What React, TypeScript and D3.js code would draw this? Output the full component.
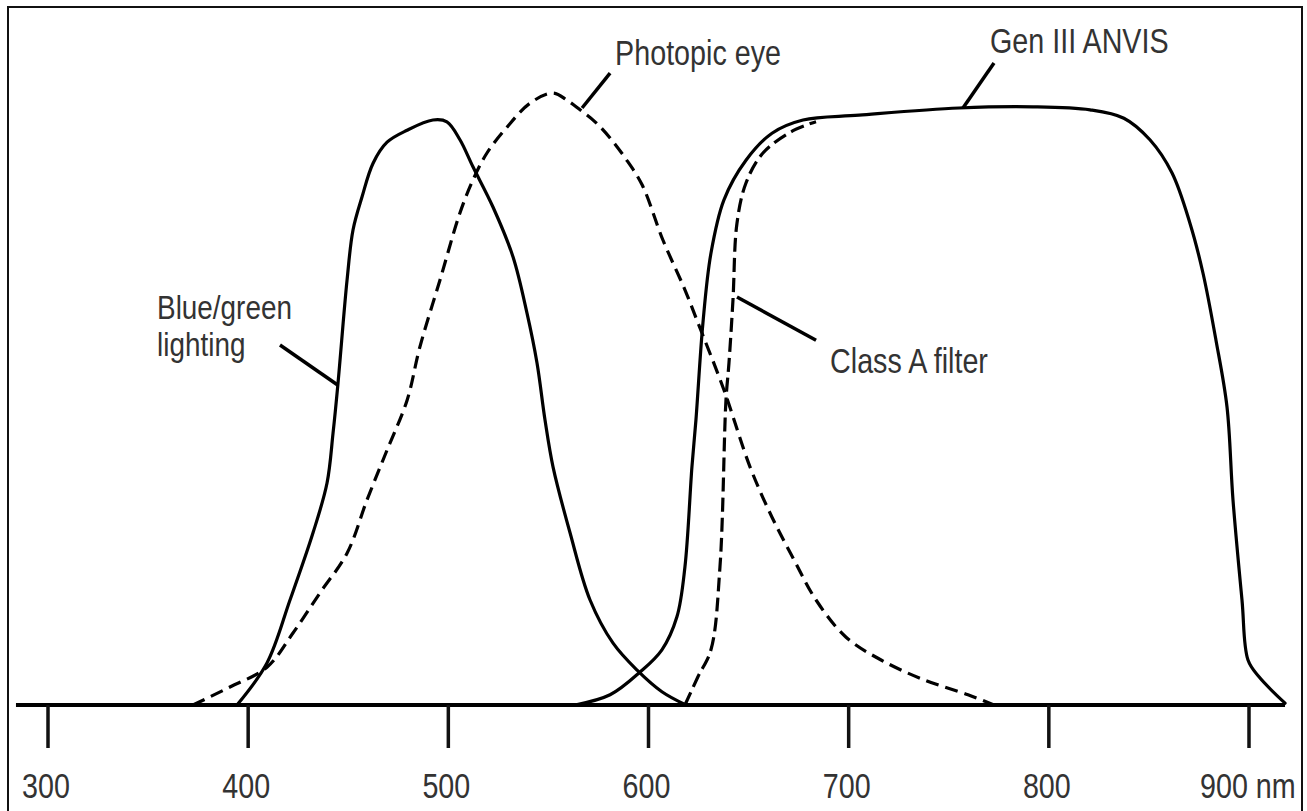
import React from "react";
import * as d3 from "d3";

// ---- Data (wavelength in nm, relative response 0..100) ----
const tickValues = [300, 400, 500, 600, 700, 800, 900];
const tickLabels = ["300", "400", "500", "600", "700", "800", "900 nm"];
const axisExtent = [284, 918];

const blueGreen: [number, number][] = [
  [394.4, 0], [409.4, 7], [420.9, 17.5], [432.4, 28.7], [439.4, 37], [442.4, 45.3],
  [444.9, 53.7], [449.4, 70.8], [452.4, 79.2], [456.9, 84.7], [462.4, 90.3],
  [469.4, 93.8], [479.4, 95.8], [492.3, 97.5], [499.3, 97.2], [505.8, 94.2],
  [512.3, 89.7], [522.3, 83], [532.3, 74.7], [539.3, 65.3], [544.3, 57],
  [548.3, 47.5], [552.3, 39.7], [560.8, 28.7], [570.8, 17.5], [582.3, 10.3],
  [594.3, 5.8], [606.7, 2.2], [618.7, 0],
];

const photopic: [number, number][] = [
  [372.4, 0], [390.9, 3], [409.4, 6.3], [422.4, 12], [435.9, 18.7], [449.4, 25.3],
  [459.4, 34.2], [469.4, 42.5], [479.4, 50.8], [485.8, 59.7], [495.8, 70.8],
  [505.8, 82], [512.3, 87.5], [519.3, 92], [529.3, 96.3], [540.8, 100.3],
  [552.3, 102], [559.3, 100.8], [565.8, 99.2], [573.3, 97.2], [580.8, 94.5],
  [588.3, 91.2], [596.8, 86.7], [607.2, 77.5], [618.2, 69.2], [624.7, 63.7],
  [637.7, 52.5], [650.7, 39.7], [661.7, 31.3], [672.7, 24.2], [683.7, 17.5],
  [698.7, 11.3], [716.2, 7.5], [737.6, 4.2], [759.6, 1.7], [772.6, 0],
];

const genIII: [number, number][] = [
  [563.3, 0], [580.8, 1.7], [595.8, 5.5], [606.7, 9.2], [614.2, 14.7], [618.2, 23],
  [621.7, 39.7], [623.7, 47.5], [627.2, 63.7], [631.2, 75.3], [637.7, 84.2],
  [648.7, 90.8], [661.7, 95.3], [677.2, 97.5], [705.2, 98.3], [755.1, 99.5],
  [792.1, 99.7], [820.6, 99.2], [837.5, 97.8], [850.5, 94.2], [861.5, 88.7],
  [870.5, 80.3], [877, 72], [883.5, 60.8], [889, 49.7], [892, 34.2],
  [896.5, 17.5], [899.5, 7.5], [905, 4.7], [918, 0.3],
];

const classA: [number, number][] = [
  [618.2, 0], [624.7, 4.7], [631.2, 9.2], [635.7, 23], [638.7, 50.8],
  [640.2, 57], [642.2, 67.5], [644.2, 80.3], [648.7, 87], [657.2, 92],
  [672.7, 95.8], [683.7, 97.2],
];

// annotation labels (anchor in data units) and leader lines (from -> to)
const labelNames = ["Photopic eye", "Gen III ANVIS", "Blue/green", "lighting", "Class A filter"];
const labelAnchors: [number, number][] = [
  [583.3, 106.7], [770.6, 108.7], [354.5, 64.4], [354.5, 58.1], [690.7, 55.3],
];
const labelSizes = [35, 35, 34, 34, 35];
const leaders: [[number, number], [number, number]][] = [
  [[580.8, 105.3], [566.8, 99.5]],
  [[772.6, 107], [757.1, 99.5]],
  [[415.9, 60], [444.9, 53.3]],
  [[644.2, 68], [683.7, 60.8]],
];

const W = 1307;
const H = 811;

export default function App() {
  const x = d3.scaleLinear().domain([300, 900]).range([48, 1249]);
  const y = d3.scaleLinear().domain([0, 100]).range([705, 105]);
  const line = d3
    .line<[number, number]>()
    .x((d) => x(d[0]))
    .y((d) => y(d[1]))
    .curve(d3.curveCatmullRom.alpha(0.5));

  const font = "'Liberation Sans', Arial, Helvetica, sans-serif";
  const textColor = "#333";
  const squeeze = 0.82;
  const fs = 35;

  return (
    <svg
      width={W}
      height={H}
      style={{ position: "absolute", left: 0, top: 0, background: "#fff" }}
    >
      <rect x={0} y={0} width={W} height={H} fill="#fff" />
      {/* frame */}
      <rect x={8} y={7} width={1294} height={830} fill="none" stroke="#111" strokeWidth={2} />

      {/* curves */}
      <path d={line(blueGreen) || ""} fill="none" stroke="#000" strokeWidth={3.2} strokeLinejoin="round" strokeLinecap="round" />
      <path d={line(genIII) || ""} fill="none" stroke="#000" strokeWidth={3.2} strokeLinejoin="round" strokeLinecap="round" />
      <path d={line(photopic) || ""} fill="none" stroke="#000" strokeWidth={3.2} strokeDasharray="13 7" />
      <path d={line(classA) || ""} fill="none" stroke="#000" strokeWidth={3.2} strokeDasharray="14 6" />

      {/* axis */}
      <line
        x1={x(axisExtent[0])}
        x2={x(axisExtent[1])}
        y1={y(0)}
        y2={y(0)}
        stroke="#000"
        strokeWidth={4}
      />
      {tickValues.map((t, i) => (
        <g key={t}>
          <line x1={x(t)} x2={x(t)} y1={y(0)} y2={y(0) + 43} stroke="#111" strokeWidth={3.5} />
          <text
            transform={
              i === tickValues.length - 1
                ? `translate(${x(t) - 49},${y(0) + 93}) scale(${squeeze},1)`
                : `translate(${x(t) - 2},${y(0) + 93}) scale(${squeeze},1)`
            }
            textAnchor={i === tickValues.length - 1 ? "start" : "middle"}
            fontFamily={font}
            fontSize={fs}
            fill={textColor}
          >
            {tickLabels[i]}
          </text>
        </g>
      ))}

      {/* leaders */}
      {leaders.map((l, i) => (
        <line
          key={i}
          x1={x(l[0][0])}
          y1={y(l[0][1])}
          x2={x(l[1][0])}
          y2={y(l[1][1])}
          stroke="#000"
          strokeWidth={3.5}
        />
      ))}

      {/* labels */}
      {labelNames.map((name, i) => (
        <text
          key={name}
          transform={`translate(${x(labelAnchors[i][0])},${y(labelAnchors[i][1])}) scale(${squeeze},1)`}
          fontFamily={font}
          fontSize={labelSizes[i]}
          fill={textColor}
        >
          {name}
        </text>
      ))}
    </svg>
  );
}
